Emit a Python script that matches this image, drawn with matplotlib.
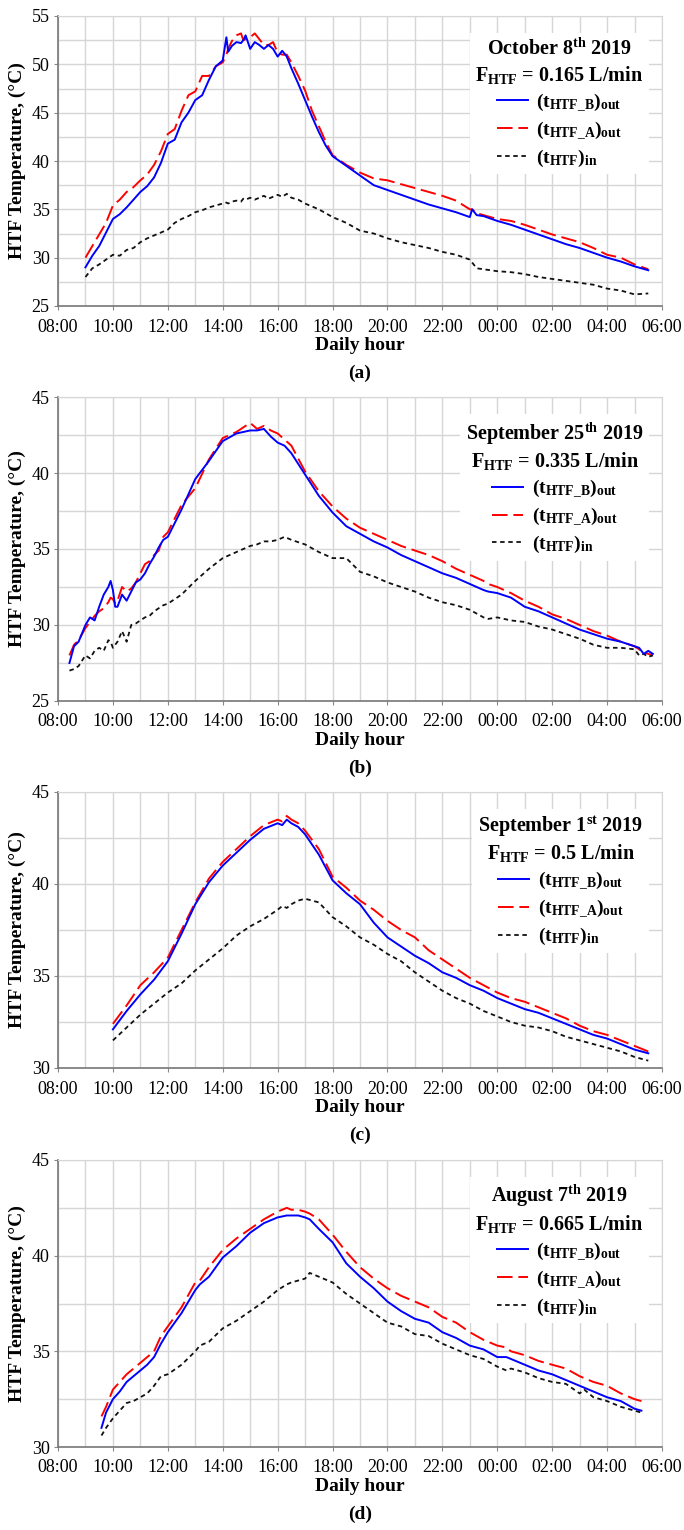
import numpy as np
import matplotlib
matplotlib.use("Agg")
import matplotlib.pyplot as plt
from matplotlib.ticker import MultipleLocator

plt.rcParams['font.family'] = ['Liberation Serif', 'DejaVu Serif']
plt.rcParams['mathtext.fontset'] = 'custom'
plt.rcParams['mathtext.rm'] = 'Liberation Serif:bold'
plt.rcParams['mathtext.bf'] = 'Liberation Serif:bold'
plt.rcParams['mathtext.it'] = 'Liberation Serif:bold'
plt.rcParams['mathtext.default'] = 'bf'

XTICK_LABELS = ["08:00", "10:00", "12:00", "14:00", "16:00", "18:00",
                "20:00", "22:00", "00:00", "02:00", "04:00", "06:00"]
SERIES_LABELS = [r"$(t_{HTF\_B})_{out}$", r"$(t_{HTF\_A})_{out}$", r"$(t_{HTF})_{in}$"]
PANEL_TAGS = ["(a)", "(b)", "(c)", "(d)"]
DATES = ["October 8$^{th}$ 2019", "September 25$^{th}$ 2019",
         "September 1$^{st}$ 2019", "August 7$^{th}$ 2019"]
FLOWS = ["0.165", "0.335", "0.5", "0.665"]
YLIMS = [(25, 55), (25, 45), (30, 45), (30, 45)]

# ---- (a) October 8th ----
time_a = ["09:00", "09:15", "09:30", "09:45", "10:00", "10:15", "10:30", "10:45",
          "11:00", "11:15", "11:30", "11:45", "12:00", "12:15", "12:30", "12:45",
          "13:00", "13:15", "13:30", "13:45", "14:00", "14:08", "14:12", "14:20",
          "14:30", "14:40", "14:45", "14:50", "15:00", "15:10", "15:20", "15:30",
          "15:40", "15:50", "16:00", "16:10", "16:20", "16:30", "16:45", "17:00",
          "17:15", "17:30", "17:45", "18:00", "18:30", "19:00", "19:30", "20:00",
          "20:30", "21:00", "21:30", "22:00", "22:30", "23:00", "23:05", "23:15",
          "23:30", "00:00", "00:30", "01:00", "01:30", "02:00", "02:30", "03:00",
          "03:30", "04:00", "04:30", "05:00", "05:30"]
b_out_a = [29.0, 30.2, 31.2, 32.6, 34.0, 34.5, 35.2, 36.0, 36.8, 37.4, 38.3, 39.8,
           41.8, 42.2, 44.0, 45.0, 46.3, 46.8, 48.4, 49.8, 50.4, 52.8, 51.3, 51.9,
           52.3, 52.2, 52.5, 53.0, 51.6, 52.3, 52.0, 51.6, 52.0, 51.6, 50.8, 51.4,
           50.8, 49.6, 48.0, 46.3, 44.6, 43.0, 41.6, 40.5, 39.5, 38.5, 37.5, 37.0,
           36.5, 36.0, 35.5, 35.1, 34.7, 34.2, 35.0, 34.4, 34.3, 33.8, 33.4, 32.9,
           32.4, 31.9, 31.4, 31.0, 30.5, 30.0, 29.6, 29.1, 28.7]
a_out_a = [30.0, 31.2, 32.4, 33.6, 35.4, 36.0, 36.8, 37.3, 38.0, 38.6, 39.6, 41.0,
           42.8, 43.3, 45.2, 46.8, 47.2, 48.8, 48.8, 49.8, 50.2, 51.0, 51.6, 52.4,
           53.0, 53.2, 52.5, 52.6, 52.8, 53.2, 52.6, 52.0, 52.0, 52.3, 51.2, 51.0,
           51.0, 50.2, 48.8, 47.3, 45.2, 43.6, 42.0, 40.6, 39.6, 38.8, 38.2, 38.0,
           37.6, 37.2, 36.8, 36.4, 35.9, 35.0, 35.0, 34.6, 34.4, 34.0, 33.8, 33.4,
           32.9, 32.4, 32.0, 31.6, 31.0, 30.3, 30.0, 29.3, 28.8]
in_a = [28.0, 28.9, 29.3, 29.8, 30.3, 30.2, 30.8, 31.0, 31.6, 32.0, 32.3, 32.6,
        32.9, 33.6, 34.0, 34.3, 34.7, 34.9, 35.2, 35.4, 35.6, 35.7, 35.6, 35.8,
        35.9, 35.8, 36.1, 36.0, 36.2, 36.0, 36.2, 36.4, 36.1, 36.3, 36.5, 36.3,
        36.6, 36.2, 36.0, 35.6, 35.3, 35.0, 34.6, 34.2, 33.6, 32.8, 32.5, 32.0,
        31.6, 31.3, 31.0, 30.6, 30.3, 29.8, 29.5, 28.9, 28.8, 28.6, 28.5, 28.3,
        28.0, 27.8, 27.6, 27.4, 27.2, 26.8, 26.6, 26.2, 26.3]

# ---- (b) September 25th ----
time_b = ["08:25", "08:35", "08:45", "09:00", "09:10", "09:20", "09:30", "09:40",
          "09:50", "09:55", "10:00", "10:05", "10:10", "10:20", "10:30", "10:40",
          "10:50", "11:00", "11:10", "11:20", "11:30", "11:40", "11:50", "12:00",
          "12:30", "13:00", "13:30", "14:00", "14:30", "15:00", "15:15", "15:30",
          "15:45", "16:00", "16:15", "16:30", "17:00", "17:30", "18:00", "18:30",
          "19:00", "19:30", "20:00", "20:30", "21:00", "21:30", "22:00", "22:30",
          "23:00", "23:30", "23:40", "00:00", "00:30", "01:00", "01:30", "02:00",
          "02:30", "03:00", "03:30", "04:00", "04:30", "05:00", "05:10", "05:20",
          "05:30", "05:40"]
b_out_b = [27.5, 28.6, 28.9, 30.0, 30.5, 30.3, 31.2, 32.0, 32.5, 32.9, 32.3, 31.2,
           31.2, 32.0, 31.6, 32.2, 32.8, 33.0, 33.4, 34.0, 34.5, 35.1, 35.6, 35.8,
           37.6, 39.6, 40.8, 42.1, 42.6, 42.8, 42.8, 42.9, 42.4, 42.0, 41.8, 41.3,
           39.9, 38.5, 37.4, 36.5, 36.0, 35.5, 35.1, 34.6, 34.2, 33.8, 33.4, 33.1,
           32.7, 32.3, 32.2, 32.1, 31.8, 31.2, 30.9, 30.5, 30.1, 29.7, 29.4, 29.1,
           28.9, 28.6, 28.5, 28.1, 28.3, 28.1]
a_out_b = [28.0, 28.7, 29.0, 29.8, 30.2, 30.6, 30.9, 31.1, 31.5, 31.8, 31.7, 31.4,
           31.6, 32.5, 32.2, 32.4, 32.8, 33.4, 34.0, 34.2, 34.6, 34.9, 35.8, 36.1,
           37.9, 39.0, 40.9, 42.3, 42.7, 43.3, 42.9, 43.1, 42.8, 42.6, 42.2, 41.8,
           40.1, 38.8, 37.8, 37.0, 36.4, 36.0, 35.6, 35.2, 34.9, 34.6, 34.2, 33.7,
           33.3, 32.9, 32.7, 32.5, 32.1, 31.6, 31.2, 30.7, 30.4, 30.0, 29.6, 29.3,
           28.9, 28.6, 28.4, 28.2, 28.1, 28.0]
in_b = [27.0, 27.1, 27.3, 28.0, 27.8, 28.3, 28.5, 28.3, 29.0, 28.9, 28.5, 28.7,
        28.9, 29.6, 28.9, 30.0, 30.1, 30.3, 30.5, 30.6, 30.9, 31.1, 31.3, 31.4,
        32.0, 32.9, 33.7, 34.4, 34.8, 35.2, 35.3, 35.5, 35.5, 35.6, 35.8, 35.6,
        35.3, 34.8, 34.4, 34.4, 33.5, 33.2, 32.8, 32.5, 32.2, 31.8, 31.5, 31.3,
        31.0, 30.5, 30.4, 30.5, 30.3, 30.2, 29.9, 29.7, 29.4, 29.1, 28.7, 28.5,
        28.5, 28.4, 28.0, 28.1, 27.9, 28.0]

# ---- (c) September 1st ----
time_c = ["10:00", "10:30", "11:00", "11:30", "12:00", "12:30", "13:00", "13:30",
          "14:00", "14:30", "15:00", "15:30", "16:00", "16:10", "16:20", "16:30",
          "16:45", "17:00", "17:30", "18:00", "18:30", "19:00", "19:30", "20:00",
          "20:30", "21:00", "21:30", "22:00", "22:30", "23:00", "23:30", "00:00",
          "00:30", "01:00", "01:30", "02:00", "02:30", "03:00", "03:30", "04:00",
          "04:30", "05:00", "05:30"]
b_out_c = [32.1, 33.1, 34.0, 34.8, 35.8, 37.3, 38.9, 40.1, 41.0, 41.7, 42.4, 43.0,
           43.3, 43.2, 43.5, 43.3, 43.1, 42.7, 41.6, 40.2, 39.5, 38.9, 37.9, 37.1,
           36.6, 36.1, 35.7, 35.2, 34.9, 34.5, 34.2, 33.8, 33.5, 33.2, 33.0, 32.7,
           32.4, 32.1, 31.8, 31.6, 31.3, 31.0, 30.8]
a_out_c = [32.4, 33.4, 34.5, 35.2, 36.0, 37.5, 39.0, 40.3, 41.2, 41.9, 42.6, 43.2,
           43.5, 43.4, 43.7, 43.5, 43.3, 42.9, 41.9, 40.4, 39.8, 39.1, 38.6, 38.0,
           37.5, 37.1, 36.4, 35.9, 35.4, 34.9, 34.5, 34.1, 33.8, 33.6, 33.3, 33.0,
           32.7, 32.3, 32.0, 31.8, 31.5, 31.2, 30.9]
in_c = [31.5, 32.2, 32.9, 33.5, 34.1, 34.6, 35.3, 35.9, 36.5, 37.2, 37.7, 38.1,
        38.6, 38.8, 38.7, 38.9, 39.1, 39.2, 39.0, 38.2, 37.7, 37.1, 36.7, 36.2,
        35.8, 35.2, 34.7, 34.2, 33.8, 33.5, 33.1, 32.8, 32.5, 32.3, 32.2, 32.0,
        31.7, 31.5, 31.3, 31.1, 30.9, 30.6, 30.4]

# ---- (d) August 7th ----
time_d = ["09:35", "09:45", "10:00", "10:15", "10:30", "10:45", "11:00", "11:15",
          "11:30", "11:45", "12:00", "12:30", "13:00", "13:10", "13:30", "14:00",
          "14:30", "15:00", "15:30", "16:00", "16:20", "16:30", "16:45", "17:00",
          "17:10", "17:30", "18:00", "18:30", "19:00", "19:30", "20:00", "20:30",
          "21:00", "21:30", "22:00", "22:30", "23:00", "23:30", "00:00", "00:20",
          "00:30", "01:00", "01:30", "02:00", "02:30", "03:00", "03:10", "03:30",
          "04:00", "04:30", "05:00", "05:15"]
b_out_d = [31.0, 31.8, 32.5, 32.9, 33.4, 33.7, 34.0, 34.3, 34.7, 35.4, 36.0, 37.0,
           38.2, 38.5, 38.9, 39.9, 40.5, 41.2, 41.7, 42.0, 42.1, 42.1, 42.1, 42.0,
           41.9, 41.4, 40.7, 39.6, 38.9, 38.3, 37.6, 37.1, 36.7, 36.5, 36.0, 35.7,
           35.3, 35.1, 34.7, 34.7, 34.6, 34.3, 34.0, 33.8, 33.5, 33.2, 33.1, 32.9,
           32.6, 32.4, 32.0, 31.9]
a_out_d = [31.6, 32.1, 33.0, 33.4, 33.8, 34.1, 34.4, 34.7, 35.0, 35.8, 36.3, 37.3,
           38.6, 38.7, 39.4, 40.3, 40.9, 41.4, 41.9, 42.3, 42.5, 42.4, 42.4, 42.3,
           42.2, 41.9, 41.1, 40.2, 39.4, 38.8, 38.3, 37.9, 37.6, 37.3, 36.8, 36.5,
           36.0, 35.6, 35.3, 35.2, 35.0, 34.8, 34.5, 34.3, 34.1, 33.7, 33.6, 33.4,
           33.2, 32.8, 32.5, 32.4]
in_d = [30.6, 31.0, 31.5, 31.9, 32.3, 32.4, 32.6, 32.8, 33.2, 33.7, 33.8, 34.3,
        35.0, 35.3, 35.5, 36.2, 36.6, 37.1, 37.6, 38.2, 38.5, 38.6, 38.7, 38.8,
        39.1, 38.9, 38.6, 38.0, 37.5, 37.0, 36.5, 36.3, 35.9, 35.8, 35.4, 35.1,
        34.8, 34.6, 34.2, 34.0, 34.1, 33.9, 33.6, 33.4, 33.3, 32.8, 33.0, 32.6,
        32.4, 32.1, 31.9, 31.8]

TIMES = [time_a, time_b, time_c, time_d]
B_OUT = [b_out_a, b_out_b, b_out_c, b_out_d]
A_OUT = [a_out_a, a_out_b, a_out_c, a_out_d]
T_IN = [in_a, in_b, in_c, in_d]


def to_hours(stamps):
    # hours after 08:00 keep going past midnight (00:00 -> 24)
    out = []
    for s in stamps:
        h, m = s.split(":")
        v = int(h) + int(m) / 60.0
        if v < 8:
            v += 24
        out.append(v)
    return np.array(out)


W, H = 684, 1530
boxes = [(16, 306), (397, 701), (792, 1068), (1160, 1447)]
left_px, right_px = 58, 662

fig = plt.figure(figsize=(W / 100, H / 100), dpi=100)

for i in range(4):
    top, bot = boxes[i]
    ax = fig.add_axes([left_px / W, 1 - bot / H, (right_px - left_px) / W, (bot - top) / H])
    x = to_hours(TIMES[i])

    lb, = ax.plot(x, B_OUT[i], color="#0000ff", lw=1.4, zorder=4)
    la, = ax.plot(x, A_OUT[i], color="#ff0000", lw=1.4, dashes=(8, 3), zorder=3)
    li, = ax.plot(x, T_IN[i], color="#111111", lw=1.3, dashes=(2.5, 2), zorder=3)

    ax.set_xlim(8, 30)
    ax.set_ylim(*YLIMS[i])
    ax.set_xticks(np.arange(8, 31, 2))
    ax.set_xticklabels(XTICK_LABELS)
    ax.xaxis.set_minor_locator(MultipleLocator(1))
    ax.yaxis.set_major_locator(MultipleLocator(5))
    ax.yaxis.set_minor_locator(MultipleLocator(2.5))
    ax.grid(which="both", color="#d6d6d6", lw=1.0, zorder=0)
    ax.set_axisbelow(True)
    ax.tick_params(which="both", length=3, color="#888888", labelsize=13)
    ax.tick_params(axis="x", pad=6)
    ax.tick_params(axis="y", pad=3)
    ax.tick_params(which="minor", length=0)
    for sp in ["top", "right"]:
        ax.spines[sp].set_color("#d6d6d6")
    for sp in ["left", "bottom"]:
        ax.spines[sp].set_color("#777777")
        ax.spines[sp].set_linewidth(1.2)

    ax.set_ylabel("HTF Temperature, (°C)", fontsize=14, fontweight="bold", labelpad=4)
    ax.set_xlabel("Daily hour", fontsize=14, fontweight="bold", labelpad=1)
    ax.text(0.5, -0.232 * 290 / (bot - top), PANEL_TAGS[i], transform=ax.transAxes,
            ha="center", va="center", fontsize=14, fontweight="bold")

    title = DATES[i] + "\n" + r"$F_{HTF}$" + " = " + FLOWS[i] + " L/min"
    leg = ax.legend([lb, la, li], SERIES_LABELS, loc="upper right",
                    bbox_to_anchor=(0.995, 0.975), title=title,
                    title_fontproperties={"weight": "bold", "size": 14.5},
                    fontsize=14, frameon=True, fancybox=False, framealpha=1,
                    edgecolor="none", facecolor="white", handlelength=1.6,
                    handletextpad=0.45, labelspacing=0.3, borderpad=0.3)
    leg.get_title().set_multialignment("center")
    leg.set_zorder(6)

fig.savefig("out.png", dpi=100)
